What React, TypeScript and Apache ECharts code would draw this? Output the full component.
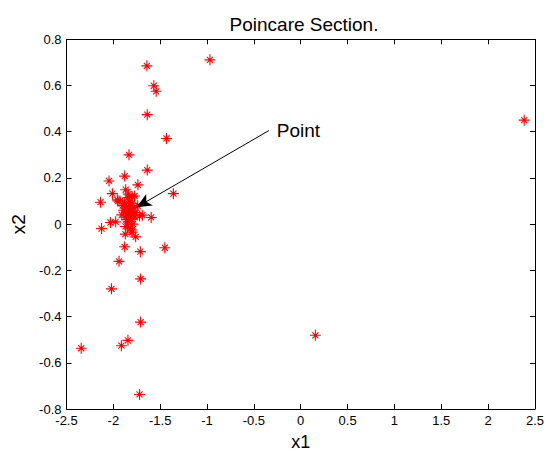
import React, { useEffect, useRef } from "react";
import * as echarts from "echarts";

// Poincare section samples (x1, x2)
const outerPoints: [number, number][] = [
  [-1.642, 0.685], [-0.969, 0.711], [-1.568, 0.599], [-1.543, 0.575],
  [-1.638, 0.474], [-1.433, 0.371], [-1.833, 0.3], [-1.638, 0.234],
  [-1.879, 0.208], [-2.046, 0.187], [-1.738, 0.17], [-1.868, 0.149],
  [-2.01, 0.132], [-1.359, 0.132], [-1.773, 0.122], [-2.137, 0.095],
  [-1.95, 0.1], [-1.844, 0.115], [-1.956, 0.105], [-1.596, 0.029],
  [-1.691, 0.039], [-2.126, -0.019], [-2.031, 0.007], [-1.975, 0.01],
  [-1.872, -0.043], [-1.801, -0.025], [-1.762, -0.055], [-1.879, -0.098],
  [-1.712, -0.119], [-1.451, -0.102], [-1.939, -0.161], [-1.709, -0.237],
  [-2.02, -0.28], [-1.709, -0.424], [-1.844, -0.503], [-1.914, -0.526],
  [-2.343, -0.537], [-1.72, -0.737], [2.385, 0.45], [0.156, -0.481],
];

const clusterPoints: [number, number][] = [
  [-1.85, 0.05], [-1.82, 0.06], [-1.8, 0.04], [-1.87, 0.03], [-1.83, 0.08],
  [-1.78, 0.07], [-1.86, 0.07], [-1.81, 0.02], [-1.84, 0.01], [-1.89, 0.06],
  [-1.76, 0.05], [-1.83, 0.1], [-1.8, 0.09], [-1.88, 0.09], [-1.91, 0.04],
  [-1.79, 0.0], [-1.85, -0.01], [-1.82, 0.035], [-1.84, 0.045], [-1.81, 0.055],
  [-1.86, 0.02], [-1.77, 0.03], [-1.9, 0.08], [-1.82, -0.02], [-1.87, -0.01],
  [-1.74, 0.08], [-1.93, 0.1], [-1.8, 0.12], [-1.84, 0.13], [-1.72, 0.035],
  [-1.8, -0.035],
];

// Annotation arrow (tail -> head) and its label, in data coordinates
const arrowTail: [number, number] = [-0.34, 0.405];
const arrowHead: [number, number] = [-1.752, 0.073];
const labelAnchor: [number, number] = [-0.255, 0.405];
const labelText = "Point";

const titleText = "Poincare Section.";
const xName = "x1";
const yName = "x2";

// asterisk marker: plus + cross made of thin bars
const ASTERISK =
  "path://M0 4.5H10V5.5H0Z M4.5 0H5.5V10H4.5Z M1.9 2.6L2.6 1.9L8.1 7.4L7.4 8.1Z M7.4 1.9L8.1 2.6L2.6 8.1L1.9 7.4Z";

const FONT = "Liberation Sans, Arial, sans-serif";

export default function App() {
  const ref = useRef<HTMLDivElement>(null);

  useEffect(() => {
    document.body.style.margin = "0";
    if (!ref.current) return;
    const chart = echarts.init(ref.current, undefined, { renderer: "svg" });

    const axisCommon = {
      axisLine: { show: true, onZero: false, lineStyle: { color: "#000", width: 1 } },
      axisTick: { show: true, inside: true, length: 5, lineStyle: { color: "#000" } },
      splitLine: { show: false },
    };
    const label = { color: "#000", fontSize: 13, fontFamily: FONT };

    chart.setOption({
      animation: false,
      backgroundColor: "#fff",
      title: {
        text: titleText,
        left: 299,
        textAlign: "center",
        top: 10,
        textStyle: { color: "#000", fontSize: 19, fontWeight: "normal", fontFamily: FONT },
      },
      grid: { left: 66.5, right: 9.7, top: 39.3, bottom: 46, containLabel: false },
      xAxis: [
        {
          type: "value",
          min: -2.5,
          max: 2.5,
          interval: 0.5,
          position: "bottom",
          ...axisCommon,
          axisLabel: { ...label, margin: 5 },
          name: xName,
          nameLocation: "middle",
          nameGap: 24,
          nameTextStyle: { color: "#000", fontSize: 18, fontFamily: FONT },
        },
        {
          type: "value",
          min: -2.5,
          max: 2.5,
          interval: 0.5,
          position: "top",
          ...axisCommon,
          axisLabel: { show: false },
        },
      ],
      yAxis: [
        {
          type: "value",
          min: -0.8,
          max: 0.8,
          interval: 0.2,
          position: "left",
          ...axisCommon,
          axisLabel: { ...label, margin: 5 },
          name: yName,
          nameLocation: "middle",
          nameGap: 38,
          nameTextStyle: { color: "#000", fontSize: 19, fontFamily: FONT },
        },
        {
          type: "value",
          min: -0.8,
          max: 0.8,
          interval: 0.2,
          position: "right",
          ...axisCommon,
          axisLabel: { show: false },
        },
      ],
      series: [
        {
          type: "scatter",
          data: [...outerPoints, ...clusterPoints],
          symbol: ASTERISK,
          symbolSize: 11,
          itemStyle: { color: "#ff0000", opacity: 1 },
          silent: true,
          markLine: {
            silent: true,
            symbol: ["none", "arrow"],
            symbolSize: [10, 15],
            lineStyle: { color: "#000", width: 1, type: "solid" },
            label: { show: false },
            data: [[{ coord: arrowTail }, { coord: arrowHead }]],
          },
          markPoint: {
            silent: true,
            symbol: "circle",
            symbolSize: 0,
            data: [
              {
                coord: labelAnchor,
                label: {
                  show: true,
                  formatter: labelText,
                  position: "right",
                  distance: 0,
                  color: "#000",
                  fontSize: 19,
                  fontFamily: FONT,
                },
              },
            ],
          },
        },
      ],
    });

    return () => chart.dispose();
  }, []);

  return <div ref={ref} style={{ width: 547, height: 456 }} />;
}
